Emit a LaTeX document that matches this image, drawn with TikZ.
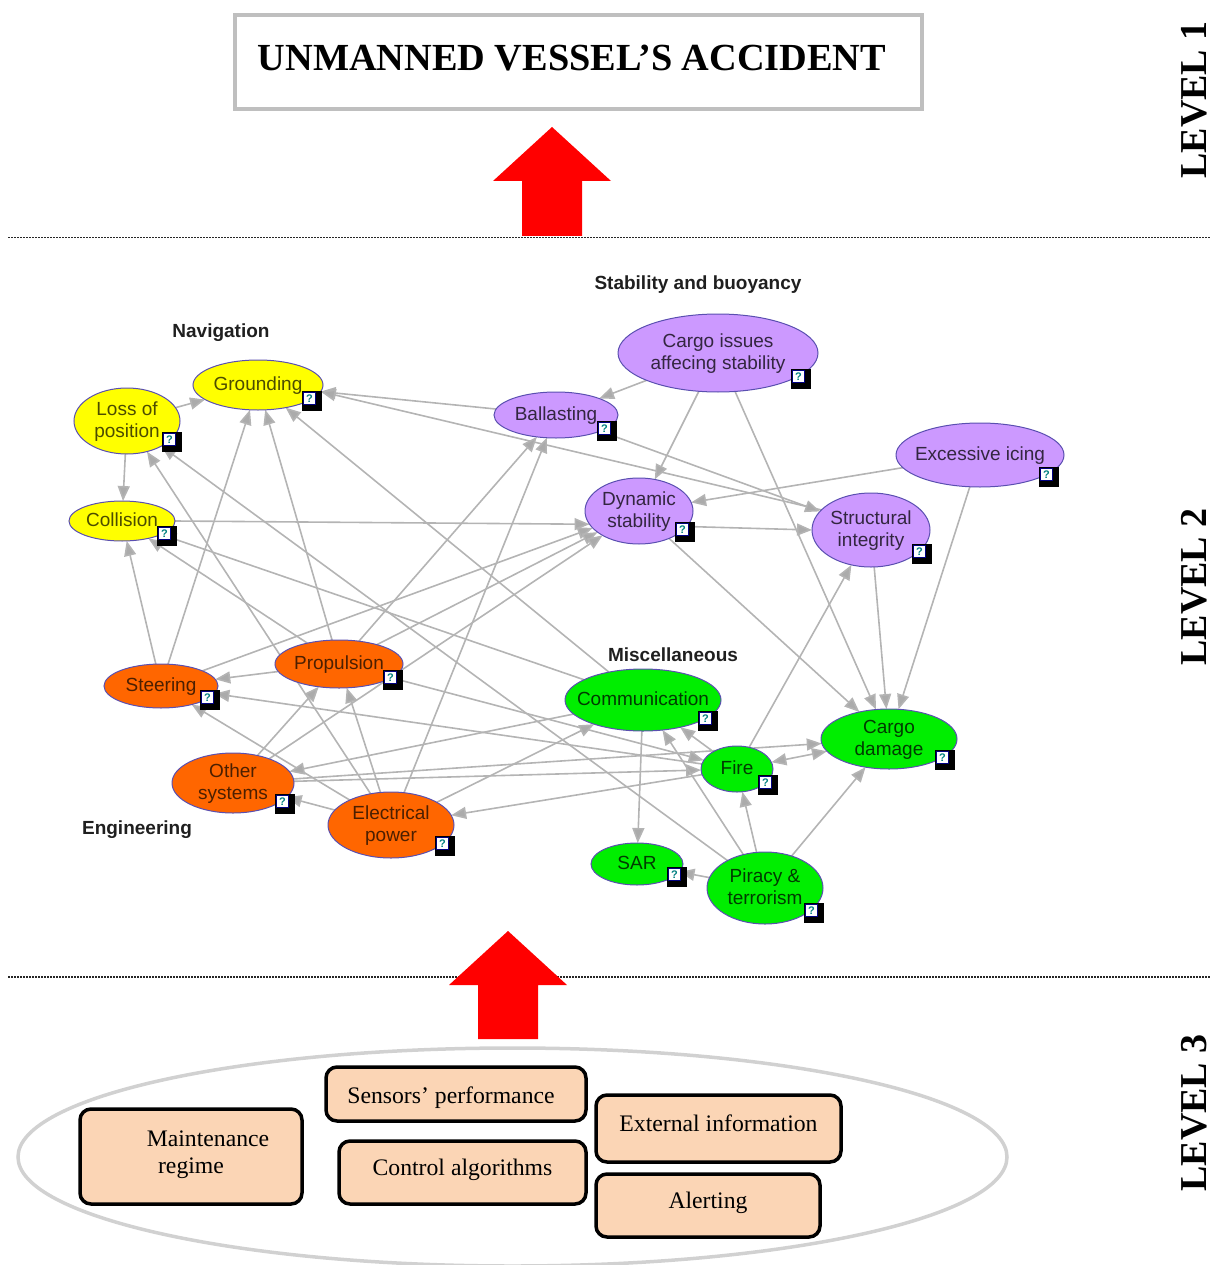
\documentclass[tikz,border=0pt]{standalone}
\usepackage{fontspec}
\setmainfont{Liberation Serif}
\newfontfamily\gsans{Liberation Sans}
\usetikzlibrary{shapes.geometric,arrows.meta,positioning}
\pgfdeclarelayer{bgedges}
\pgfsetlayers{bgedges,main}
\definecolor{edgegray}{HTML}{B4B4B4}
\definecolor{ringblue}{HTML}{5A4FB0}
\definecolor{yel}{HTML}{FFFF00}
\definecolor{pur}{HTML}{CC99FF}
\definecolor{ora}{HTML}{FF6600}
\definecolor{gre}{HTML}{00EE00}
\definecolor{peach}{HTML}{FBD5B5}
\definecolor{framegray}{HTML}{BFBFBF}
\newcommand\lab[1]{\smash{\makebox[0pt]{\raisebox{-5pt}{\begin{tabular}{@{}c@{}}#1\end{tabular}}}}}
\newcommand\btx[2]{\smash{\makebox[0pt]{\raisebox{#1}{\begin{tabular}{@{}c@{}}#2\end{tabular}}}}}
\tikzset{
 gnode/.style={ellipse,draw=ringblue,line width=1pt,inner sep=0pt,outer sep=0pt,font=\gsans\fontsize{19}{22}\selectfont},
 ynode/.style={gnode,fill=yel,text=black!70!yel},
 pnode/.style={gnode,fill=pur,text=black!75!pur},
 onode/.style={gnode,fill=ora,text=black!70!ora},
 grnode/.style={gnode,fill=gre,text=black!75!gre},
 edge/.style={draw=edgegray,line width=1.6pt,-{Triangle[length=15pt,width=12pt,fill=edgegray!95!black]}},
 cat/.style={font=\gsans\bfseries\fontsize{19}{20}\selectfont,text=black!88},
 badgeb/.style={fill=black,draw=none,minimum size=20pt,inner sep=0pt,outer sep=0pt},
 badgei/.style={fill=white,draw=blue!50!black,line width=1pt,minimum size=12pt,inner sep=0pt,font=\gsans\bfseries\fontsize{11}{11}\selectfont,text=teal},
 cbox/.style={draw=black,line width=3.5pt,rounded corners=11pt,fill=peach,inner sep=0pt,font=\fontsize{23.7}{27}\selectfont},
 lev/.style={rotate=90,font=\bfseries\fontsize{38}{38}\selectfont},
 redarrow/.style={fill=red,draw=none},
 sep/.style={line width=1.2pt,dash pattern=on 1.5pt off 1.5pt,black!85}
}
\newcommand\gbadge[3]{\node[badgeb] (#1b) at (#2,#3) {};\node[badgei] (#1q) at (#2-2.5,#3-2.5) {?};}
\begin{document}
\begin{tikzpicture}[x=1pt,y=-1pt]
\useasboundingbox (0,0) rectangle (1211,1265);
% level 1
\node[draw=framegray,line width=4pt,minimum width=687pt,minimum height=94pt,inner sep=0pt] (top) at (578.5,62) {};
\node[font=\bfseries\fontsize{38.3}{40}\selectfont] (title) at (572,58) {UNMANNED VESSEL’S ACCIDENT};
\node[lev] (l1) at (1194,100) {LEVEL 1};
\node[lev] (l2) at (1194,587) {LEVEL 2};
\node[lev] (l3) at (1194,1113) {LEVEL 3};
\coordinate (s1a) at (8,237.5); \coordinate (s1b) at (1211,237.5);
\coordinate (s2a) at (8,977); \coordinate (s2b) at (1211,977);
\draw[sep] (s1a) -- (s1b);
\draw[sep] (s2a) -- (s2b);
\fill[redarrow] (552,127) -- (611,181) -- (582,181) -- (582,236) -- (522,236) -- (522,181) -- (493,181) -- cycle;
\fill[redarrow] (508,931) -- (567,985) -- (538,985) -- (538,1039) -- (478,1039) -- (478,985) -- (449,985) -- cycle;
% level 3
\node[ellipse,draw=black!18,line width=3.5pt,minimum width=989pt,minimum height=218pt,inner sep=0pt] (pool) at (512.5,1157) {};
\node[cbox,minimum width=222pt,minimum height=95pt] (maint) at (191,1156.5) {\btx{-4pt}{\hspace*{34pt}Maintenance\\regime}};
\node[cbox,minimum width=260pt,minimum height=54pt] (sens) at (456,1094) {\btx{-10pt}{\hspace*{-10pt}Sensors’ performance}};
\node[cbox,minimum width=247pt,minimum height=63pt] (ctrl) at (462.5,1172.5) {\btx{-4pt}{Control algorithms}};
\node[cbox,minimum width=245pt,minimum height=67pt] (ext) at (718.5,1128.5) {\btx{-4pt}{External information}};
\node[cbox,minimum width=224pt,minimum height=63pt] (alert) at (708,1205.5) {\btx{-4pt}{Alerting}};
% category labels
\node[cat] (cstab) at (698,285) {Stability and buoyancy};
\node[cat] (cnav) at (221,333) {Navigation};
\node[cat] (cmisc) at (673,655) {Miscellaneous};
\node[cat] (ceng) at (137,830) {Engineering};
% nodes
\node[ynode,minimum width=130pt,minimum height=50pt] (ground) at (258,385) {\lab{Grounding}};
\node[ynode,minimum width=106pt,minimum height=66pt] (loss) at (127,421) {\lab{Loss of\\position}};
\node[ynode,minimum width=106pt,minimum height=40pt] (coll) at (122,521) {\lab{Collision}};
\node[pnode,minimum width=200pt,minimum height=78pt] (cargoi) at (718,353) {\lab{Cargo issues\\affecing stability}};
\node[pnode,minimum width=124pt,minimum height=46pt] (ball) at (556,415) {\lab{Ballasting}};
\node[pnode,minimum width=168pt,minimum height=64pt] (icing) at (980,455) {\lab{Excessive icing}};
\node[pnode,minimum width=108pt,minimum height=66pt] (dyn) at (639,511) {\lab{Dynamic\\stability}};
\node[pnode,minimum width=118pt,minimum height=74pt] (struct) at (871,530) {\lab{Structural\\integrity}};
\node[onode,minimum width=114pt,minimum height=44pt] (steer) at (161,686) {\lab{Steering}};
\node[onode,minimum width=128pt,minimum height=48pt] (prop) at (339,664) {\lab{Propulsion}};
\node[onode,minimum width=122pt,minimum height=60pt] (other) at (233,783) {\lab{Other\\systems}};
\node[onode,minimum width=126pt,minimum height=66pt] (elec) at (391,825) {\lab{Electrical\\power}};
\node[grnode,minimum width=156pt,minimum height=62pt] (comm) at (643,700) {\lab{Communication}};
\node[grnode,minimum width=72pt,minimum height=46pt] (fire) at (737,769) {\lab{Fire}};
\node[grnode,minimum width=136pt,minimum height=60pt] (cdam) at (889,739) {\lab{Cargo\\damage}};
\node[grnode,minimum width=92pt,minimum height=42pt] (sar) at (637,864) {\lab{SAR}};
\node[grnode,minimum width=116pt,minimum height=72pt] (pir) at (765,888) {\lab{Piracy \&\\terrorism}};
% badges
\gbadge{ground}{312}{401}
\gbadge{loss}{172}{442}
\gbadge{coll}{167}{536}
\gbadge{cargoi}{801}{379}
\gbadge{ball}{607}{431}
\gbadge{icing}{1049}{477}
\gbadge{dyn}{685}{532}
\gbadge{struct}{922}{554}
\gbadge{steer}{210}{700}
\gbadge{prop}{393}{680}
\gbadge{other}{285}{804}
\gbadge{elec}{445}{846}
\gbadge{comm}{708}{721}
\gbadge{fire}{768}{785}
\gbadge{cdam}{945}{760}
\gbadge{sar}{677}{877}
\gbadge{pir}{814}{913}
\begin{pgfonlayer}{bgedges}
\draw[edge] (loss) -- (ground);
\draw[edge] (loss) -- (coll);
\draw[edge] (ball) -- (ground.-6);
\draw[edge] (struct.158) -- (ground.-6);
\draw[edge] (cargoi) -- (ball);
\draw[edge] (cargoi) -- (dyn);
\draw[edge] (cargoi) -- (cdam);
\draw[edge] (icing) -- (dyn);
\draw[edge] (icing) -- (cdam);
\draw[edge] (dyn.-18) -- (struct.west);
\draw[edge] (dyn) -- (cdam);
\draw[edge] (struct) -- (cdam);
\draw[edge] (ball) -- (struct);
\draw[edge] (fire) -- (struct);
\draw[edge] (coll.east) -- (dyn.195);
\draw[edge] (steer) -- (dyn);
\draw[edge] (prop) -- (dyn);
\draw[edge] (other) -- (dyn);
\draw[edge] (prop) -- (ball);
\draw[edge] (elec) -- (ball);
\draw[edge] (other) -- (prop);
\draw[edge] (elec) -- (prop);
\draw[edge] (prop) -- (steer);
\draw[edge] (prop) -- (ground);
\draw[edge] (steer) -- (ground);
\draw[edge] (steer) -- (coll);
\draw[edge] (prop) -- (coll);
\draw[edge] (comm) -- (coll);
\draw[edge] (comm) -- (ground);
\draw[edge] (elec) -- (loss);
\draw[edge] (pir) -- (loss);
\draw[edge] (elec) -- (steer);
\draw[edge] (fire) -- (steer);
\draw[edge] (prop) -- (fire);
\draw[edge] (other) -- (fire);
\draw[edge] (other) -- (cdam);
\draw[edge] (comm) -- (other);
\draw[edge] (elec) -- (other);
\draw[edge] (fire) -- (elec);
\draw[edge] (elec) -- (comm);
\draw[edge] (fire) -- (comm);
\draw[edge] (pir) -- (comm);
\draw[edge] (comm) -- (sar);
\draw[edge] (pir) -- (sar);
\draw[edge] (pir) -- (fire);
\draw[edge] (pir) -- (cdam);
\draw[edge,{Triangle[length=15pt,width=12pt,fill=edgegray!95!black]}-{Triangle[length=15pt,width=12pt,fill=edgegray!95!black]}] (fire) -- (cdam);
\end{pgfonlayer}
\end{tikzpicture}
\end{document}
